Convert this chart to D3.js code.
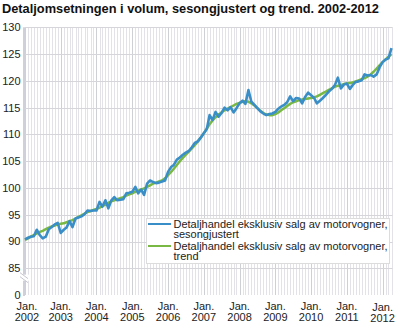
<!DOCTYPE html>
<html>
<head>
<meta charset="utf-8">
<script src="https://cdn.jsdelivr.net/npm/d3@7"></script>
<style>
  html, body { margin: 0; padding: 0; background: #fff; }
  svg { display: block; font-family: "Liberation Sans", Arial, sans-serif; }
</style>
</head>
<body>
<svg id="chart" width="395" height="326"></svg>
<script>
// Monthly index, Jan 2002 – Apr 2012
const startYear = 2002;
const startMonth = 0;

// Seasonally adjusted series
const sesongjustert = [
  90.4, 90.7, 90.9, 91.0, 92.2, 91.2, 90.6, 90.9, 92.3, 92.7, 93.2, 93.5,
  91.6, 92.2, 92.6, 93.8, 92.7, 94.3, 94.5, 94.7, 95.1, 95.8, 95.7, 95.8,
  95.8, 97.4, 96.5, 97.7, 96.2, 97.7, 98.3, 97.7, 97.8, 97.9, 99.0, 99.1,
  99.3, 100.2, 99.0, 99.7, 98.7, 100.8, 101.4, 101.1, 100.9, 101.0, 101.2, 101.4,
  103.0, 103.9, 104.3, 105.3, 105.7, 106.2, 106.6, 106.9, 107.6, 108.4, 108.7, 109.4,
  110.2, 111.0, 113.6, 112.7, 114.2, 113.3, 114.0, 115.0, 114.5, 115.1, 114.1, 114.9,
  115.8, 116.3, 115.7, 118.3, 116.1, 115.5, 114.9, 114.3, 113.9, 113.6, 113.8, 113.9,
  114.2, 114.8, 115.2, 115.5, 116.0, 117.1, 116.2, 116.8, 116.7, 115.8, 117.0, 117.8,
  117.3, 116.8, 115.8, 116.3, 116.8, 117.4, 118.0, 118.5, 119.2, 120.6, 118.6, 119.3,
  119.5, 118.5, 119.2, 119.8, 119.9, 120.1, 121.2, 121.0, 121.1, 120.8, 121.2, 122.5,
  123.5, 124.0, 124.2, 126.1
];

// Trend series
const trend = [
  90.3, 90.6, 90.9, 91.2, 91.5, 91.8, 92.0, 92.3, 92.6, 92.8, 93.0, 93.2,
  93.3, 93.4, 93.6, 93.8, 94.0, 94.3, 94.6, 94.9, 95.2, 95.5, 95.7, 95.9,
  96.1, 96.3, 96.6, 96.9, 97.2, 97.5, 97.7, 97.9, 98.1, 98.3, 98.6, 98.8,
  99.0, 99.3, 99.5, 99.7, 99.9, 100.2, 100.5, 100.8, 101.0, 101.2, 101.4, 101.8,
  102.4, 103.0, 103.6, 104.3, 105.0, 105.6, 106.2, 106.8, 107.4, 108.0, 108.7, 109.4,
  110.2, 111.1, 111.9, 112.6, 113.2, 113.7, 114.1, 114.5, 114.8, 115.1, 115.4, 115.7,
  115.9, 116.1, 116.2, 116.1, 115.8, 115.4, 114.9, 114.4, 114.0, 113.7, 113.6, 113.6,
  113.8, 114.1, 114.5, 114.9, 115.3, 115.7, 116.0, 116.2, 116.4, 116.5, 116.6, 116.7,
  116.8, 116.9, 117.1, 117.4, 117.7, 118.0, 118.3, 118.6, 118.9, 119.1, 119.2, 119.4,
  119.5, 119.6, 119.7, 119.9, 120.1, 120.3, 120.5, 120.8, 121.2, 121.7, 122.3, 122.9,
  123.5, 124.0, 124.5, 125.0
];

const yTicks = [0, 85, 90, 95, 100, 105, 110, 115, 120, 125, 130];
const xTickYears = [2002, 2003, 2004, 2005, 2006, 2007, 2008, 2009, 2010, 2011, 2012];
const title = "Detaljomsetningen i volum, sesongjustert og trend. 2002-2012";
const seriesNames = [
  ["Detaljhandel eksklusiv salg av motorvogner,", "sesongjustert"],
  ["Detaljhandel eksklusiv salg av motorvogner,", "trend"]
];
const colors = { sa: "#3a8ec8", trend: "#79b843" };

const svg = d3.select("#chart");

const dates = sesongjustert.map((_, i) => new Date(startYear, startMonth + i, 1));

const x = d3.scaleTime()
  .domain([dates[0], dates[dates.length - 1]])
  .range([25, 391.5]);

// Broken axis: 0 at the bottom, then a jump to 85
const y = d3.scaleLinear()
  .domain([0, 85, 130])
  .range([295, 268.3, 27.3]);

const plotLeft = 25, plotRight = 392.5, plotTop = y(130), plotBottom = y(0);

// Vertical monthly grid, darker at each January
const monthTicks = d3.timeMonth.range(dates[0], d3.timeMonth.offset(dates[dates.length - 1], 1));
svg.append("g")
  .selectAll("line")
  .data(monthTicks.filter(d => d.getMonth() !== 0))
  .join("line")
  .attr("x1", d => Math.round(x(d)) + 0.5).attr("x2", d => Math.round(x(d)) + 0.5)
  .attr("y1", plotTop).attr("y2", plotBottom)
  .attr("stroke", "#e2e2e8").attr("stroke-width", 1);

svg.append("g")
  .selectAll("line")
  .data(xTickYears.map(yr => new Date(yr, 0, 1)))
  .join("line")
  .attr("x1", d => Math.round(x(d)) + 0.5).attr("x2", d => Math.round(x(d)) + 0.5)
  .attr("y1", plotTop).attr("y2", plotBottom)
  .attr("stroke", "#cfcfd6").attr("stroke-width", 1);

// Horizontal grid
svg.append("g")
  .selectAll("line")
  .data(yTicks.filter(v => v >= 85))
  .join("line")
  .attr("x1", plotLeft).attr("x2", plotRight)
  .attr("y1", d => Math.round(y(d)) + 0.5).attr("y2", d => Math.round(y(d)) + 0.5)
  .attr("stroke", "#d6d6da").attr("stroke-width", 1);

// Left axis line
svg.append("line")
  .attr("x1", 24).attr("x2", 24)
  .attr("y1", plotTop).attr("y2", plotBottom + 1)
  .attr("stroke", "#d0d0da").attr("stroke-width", 2);

// Axis break marker
const breakY = (y(0) + y(85)) / 2 - 4;
svg.append("rect")
  .attr("x", 20).attr("y", breakY - 3).attr("width", 9).attr("height", 6)
  .attr("fill", "#fff");
[-2, 2].forEach(off => {
  svg.append("line")
    .attr("x1", 20).attr("y1", breakY - 3 + off)
    .attr("x2", 28).attr("y2", breakY + 3 + off)
    .attr("stroke", "#c8c8d0").attr("stroke-width", 1);
});

// Y tick labels
svg.append("g")
  .selectAll("text")
  .data(yTicks)
  .join("text")
  .attr("x", 20.5)
  .attr("y", d => y(d))
  .attr("dy", "0.36em")
  .attr("text-anchor", "end")
  .attr("font-size", 11)
  .attr("fill", "#222")
  .text(d => d);

// X tick labels (two lines)
const xl = svg.append("g")
  .selectAll("text")
  .data(xTickYears)
  .join("text")
  .attr("text-anchor", "middle")
  .attr("font-size", 11)
  .attr("fill", "#222");
xl.append("tspan")
  .attr("x", d => x(new Date(d, 0, 1)) + (d === 2002 ? 2 : 0))
  .attr("y", d => d === 2012 ? 311 : 310)
  .text("Jan.");
xl.append("tspan")
  .attr("x", d => x(new Date(d, 0, 1)) + (d === 2002 ? 2 : 0))
  .attr("y", d => d === 2012 ? 322 : 321)
  .text(d => d);

// Lines
const line = d3.line()
  .x((d, i) => x(dates[i]))
  .y(d => y(d))
  .curve(d3.curveLinear);

svg.append("path")
  .datum(trend)
  .attr("d", line)
  .attr("fill", "none")
  .attr("stroke", colors.trend)
  .attr("stroke-width", 2.5)
  .attr("stroke-linejoin", "round");

svg.append("path")
  .datum(sesongjustert)
  .attr("d", line)
  .attr("fill", "none")
  .attr("stroke", colors.sa)
  .attr("stroke-width", 2.6)
  .attr("stroke-linejoin", "round");

// Legend
const lg = svg.append("g");
lg.append("rect")
  .attr("x", 146.5).attr("y", 218.5).attr("width", 243).attr("height", 45)
  .attr("fill", "#fff").attr("stroke", "#dcdcdc");
const legendItems = [
  { color: colors.sa, lines: seriesNames[0], y0: 227.5 },
  { color: colors.trend, lines: seriesNames[1], y0: 249.5 }
];
legendItems.forEach(item => {
  lg.append("line")
    .attr("x1", 148).attr("x2", 171)
    .attr("y1", item.y0 - 3.5).attr("y2", item.y0 - 3.5)
    .attr("stroke", item.color).attr("stroke-width", 2);
  const t = lg.append("text")
    .attr("font-size", 11)
    .attr("fill", "#222");
  item.lines.forEach((s, k) => {
    t.append("tspan").attr("x", 173.5).attr("y", item.y0 + k * 10.5).text(s);
  });
});

// Title
svg.append("text")
  .attr("x", 2).attr("y", 13)
  .attr("font-size", 12.8)
  .attr("font-weight", "bold")
  .attr("fill", "#111")
  .text(title);
</script>
</body>
</html>
